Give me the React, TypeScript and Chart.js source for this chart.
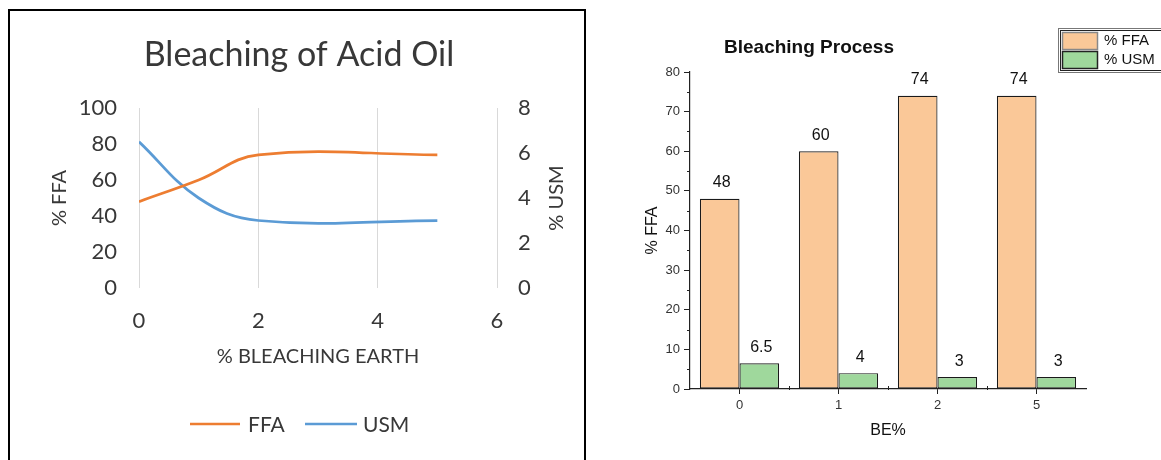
import React, { useEffect, useRef } from 'react';
import { Chart, registerables } from 'chart.js';

Chart.register(...registerables);

// ---------- data ----------
const beLevels = [0, 1, 2, 5];
const ffaValues = [48, 60, 74, 74];
const usmValues = [6.5, 4, 3, 3];
const barCategories = ['0', '1', '2', '5'];

const lineTitle = 'Bleaching of Acid Oil';
const lineXTitle = '% BLEACHING EARTH';
const lineYTitle = '% FFA';
const lineY1Title = '% USM';
const lineSeriesNames = ['FFA', 'USM'];

const barTitle = 'Bleaching Process';
const barXTitle = 'BE%';
const barYTitle = '% FFA';
const barSeriesNames = ['% FFA', '% USM'];

// ---------- styles ----------
const ORANGE = '#ED7D31';
const BLUE = '#5B9BD5';
const PEACH = '#FAC898';
const GREEN = '#9FD89C';
const XL_TEXT = '#383838';
const XL_FONT = 'Lato, "Open Sans", sans-serif';
const OR_FONT = '"Liberation Sans", Arial, sans-serif';

function LineChart() {
  const ref = useRef<HTMLCanvasElement | null>(null);
  useEffect(() => {
    if (!ref.current) return;
    const decor = {
      id: 'lineDecor',
      afterDraw(chart: any) {
        const ctx = chart.ctx;
        ctx.save();
        ctx.fillStyle = XL_TEXT;
        ctx.textAlign = 'center';
        ctx.textBaseline = 'middle';
        ctx.font = `34px ${XL_FONT}`;
        ctx.fillText(lineTitle, 289, 44);
        ctx.font = `20px ${XL_FONT}`;
        const ca = chart.chartArea;
        ctx.fillText(lineXTitle, (ca.left + ca.right) / 2, 346);
        const cy = (ca.top + ca.bottom) / 2;
        ctx.save();
        ctx.translate(50, cy);
        ctx.rotate(-Math.PI / 2);
        ctx.fillText(lineYTitle, 0, 0);
        ctx.restore();
        ctx.save();
        ctx.translate(547, cy);
        ctx.rotate(-Math.PI / 2);
        ctx.fillText(lineY1Title, 0, 0);
        ctx.restore();
        // legend
        const ly = 413;
        ctx.lineWidth = 2.5;
        ctx.strokeStyle = ORANGE;
        ctx.beginPath();
        ctx.moveTo(180, ly);
        ctx.lineTo(230, ly);
        ctx.stroke();
        ctx.strokeStyle = BLUE;
        ctx.beginPath();
        ctx.moveTo(295, ly);
        ctx.lineTo(347, ly);
        ctx.stroke();
        ctx.textAlign = 'left';
        ctx.font = `21px ${XL_FONT}`;
        ctx.fillText(lineSeriesNames[0], 238, ly + 1);
        ctx.fillText(lineSeriesNames[1], 353, ly + 1);
        ctx.restore();
      },
    };
    const tickFont = { family: XL_FONT, size: 22 };
    const chart = new Chart(ref.current, {
      type: 'scatter',
      data: {
        datasets: [
          {
            label: lineSeriesNames[0],
            data: beLevels.map((x, i) => ({ x, y: ffaValues[i] })),
            showLine: true,
            borderColor: ORANGE,
            backgroundColor: ORANGE,
            borderWidth: 2.75,
            pointRadius: 0,
            tension: 0.4,
            yAxisID: 'y',
          },
          {
            label: lineSeriesNames[1],
            data: beLevels.map((x, i) => ({ x, y: usmValues[i] })),
            showLine: true,
            borderColor: BLUE,
            backgroundColor: BLUE,
            borderWidth: 2.75,
            pointRadius: 0,
            tension: 0.4,
            yAxisID: 'y1',
          },
        ],
      },
      options: {
        responsive: false,
        animation: false,
        devicePixelRatio: 1,
        layout: { padding: { left: 69, right: 27, top: 97, bottom: 132 } },
        plugins: {
          legend: { display: false },
          title: { display: false },
          tooltip: { enabled: false },
        },
        scales: {
          x: {
            type: 'linear',
            min: 0,
            max: 6,
            ticks: { stepSize: 2, padding: 20, font: tickFont, color: XL_TEXT },
            grid: { color: '#D9D9D9', drawTicks: false, lineWidth: 1 },
            border: { display: false },
            afterFit: (s: any) => {
              s.height = 40;
            },
          },
          y: {
            position: 'left',
            min: 0,
            max: 100,
            ticks: { stepSize: 20, padding: 22, font: tickFont, color: XL_TEXT },
            grid: { display: false, drawTicks: false },
            border: { display: false },
            afterFit: (s: any) => {
              s.width = 60;
            },
          },
          y1: {
            position: 'right',
            min: 0,
            max: 8,
            ticks: { stepSize: 2, padding: 21, font: tickFont, color: XL_TEXT },
            grid: { display: false, drawTicks: false },
            border: { display: false },
            afterFit: (s: any) => {
              s.width = 60;
            },
          },
        },
      } as any,
      plugins: [decor],
    });
    return () => chart.destroy();
  }, []);
  return (
    <canvas
      ref={ref}
      width={574}
      height={449}
      style={{ position: 'absolute', left: 10, top: 11, width: 574, height: 449 }}
    />
  );
}

function BarChart() {
  const ref = useRef<HTMLCanvasElement | null>(null);
  useEffect(() => {
    if (!ref.current) return;
    const decor = {
      id: 'barDecor',
      afterDraw(chart: any) {
        const ctx = chart.ctx;
        const ca = chart.chartArea;
        const ys = chart.scales.y;
        const xs = chart.scales.x;
        ctx.save();
        // minor y ticks
        ctx.strokeStyle = '#222';
        ctx.lineWidth = 1;
        for (let v = 5; v < 80; v += 10) {
          const py = Math.round(ys.getPixelForValue(v)) + 0.5;
          ctx.beginPath();
          ctx.moveTo(ca.left - 3, py);
          ctx.lineTo(ca.left, py);
          ctx.stroke();
        }
        // category boundary ticks
        const n = barCategories.length;
        for (let i = 1; i < n; i++) {
          const px = Math.round(xs.left + (i * (xs.right - xs.left)) / n) + 0.5;
          ctx.beginPath();
          ctx.moveTo(px, ca.bottom - 3);
          ctx.lineTo(px, ca.bottom + 1);
          ctx.stroke();
        }
        // data labels
        ctx.fillStyle = '#111';
        ctx.font = `16px ${OR_FONT}`;
        ctx.textAlign = 'center';
        ctx.textBaseline = 'middle';
        chart.data.datasets.forEach((ds: any, di: number) => {
          const meta = chart.getDatasetMeta(di);
          meta.data.forEach((el: any, i: number) => {
            ctx.fillText(String(ds.data[i]), el.x + 2, el.y - 16);
          });
        });
        // title
        ctx.font = `bold 19px ${OR_FONT}`;
        ctx.fillText(barTitle, 219, 48);
        // axis titles
        ctx.font = `16px ${OR_FONT}`;
        ctx.fillText(barXTitle, (ca.left + ca.right) / 2, 431);
        ctx.save();
        ctx.translate(63, (ca.top + ca.bottom) / 2);
        ctx.rotate(-Math.PI / 2);
        ctx.fillText(barYTitle, 0, 0);
        ctx.restore();
        // legend
        ctx.lineWidth = 1;
        ctx.strokeStyle = '#777';
        ctx.strokeRect(468.5, 28.5, 120, 44);
        ctx.strokeStyle = '#222';
        ctx.strokeRect(470.5, 30.5, 120, 40);
        const colors = [PEACH, GREEN];
        const borders = ['#888', '#222'];
        const rows = [32, 51];
        ctx.font = `15px ${OR_FONT}`;
        ctx.textAlign = 'left';
        rows.forEach((ry, i) => {
          ctx.fillStyle = colors[i];
          ctx.fillRect(472, ry, 35, 17);
          ctx.strokeStyle = borders[i];
          ctx.lineWidth = 1.5;
          ctx.strokeRect(472.5, ry + 0.5, 35, 17);
          ctx.fillStyle = '#111';
          ctx.fillText(barSeriesNames[i], 514, ry + 9);
        });
        ctx.restore();
      },
    };
    const tickFont = { family: OR_FONT, size: 13 };
    const chart = new Chart(ref.current, {
      type: 'bar',
      data: {
        labels: barCategories,
        datasets: [
          {
            label: barSeriesNames[0],
            data: ffaValues,
            backgroundColor: PEACH,
            borderColor: '#1a1a1a',
            borderWidth: 1.2,
            borderSkipped: false,
            categoryPercentage: 0.8,
            barPercentage: 1.0,
          },
          {
            label: barSeriesNames[1],
            data: usmValues,
            backgroundColor: GREEN,
            borderColor: '#1a1a1a',
            borderWidth: 1.2,
            borderSkipped: false,
            categoryPercentage: 0.8,
            barPercentage: 1.0,
          },
        ],
      },
      options: {
        responsive: false,
        animation: false,
        devicePixelRatio: 1,
        layout: { padding: { left: 60, right: 75, top: 72, bottom: 41 } },
        plugins: {
          legend: { display: false },
          title: { display: false },
          tooltip: { enabled: false },
        },
        scales: {
          x: {
            type: 'category',
            offset: true,
            ticks: { padding: 4, font: tickFont, color: '#333' },
            grid: {
              offset: false,
              drawOnChartArea: false,
              drawTicks: true,
              tickLength: 5,
              color: '#222',
            },
            border: { display: true, color: '#222', width: 1.2 },
            afterFit: (s: any) => {
              s.height = 30;
            },
          },
          y: {
            min: 0,
            max: 80,
            ticks: { stepSize: 10, padding: 4, font: tickFont, color: '#333' },
            grid: {
              drawOnChartArea: false,
              drawTicks: true,
              tickLength: 6,
              color: '#222',
            },
            border: { display: true, color: '#222', width: 1.2 },
            afterFit: (s: any) => {
              s.width = 40;
            },
          },
        },
      } as any,
      plugins: [decor],
    });
    return () => chart.destroy();
  }, []);
  return (
    <canvas
      ref={ref}
      width={571}
      height={460}
      style={{ position: 'absolute', left: 590, top: 0, width: 571, height: 460 }}
    />
  );
}

export default function App() {
  return (
    <div
      style={{
        position: 'fixed',
        left: 0,
        top: 0,
        width: 1161,
        height: 460,
        overflow: 'hidden',
        background: '#fff',
      }}
    >
      <div
        style={{
          position: 'absolute',
          left: 8,
          top: 9,
          width: 578,
          height: 480,
          boxSizing: 'border-box',
          border: '2px solid #000',
        }}
      />
      <LineChart />
      <BarChart />
    </div>
  );
}
